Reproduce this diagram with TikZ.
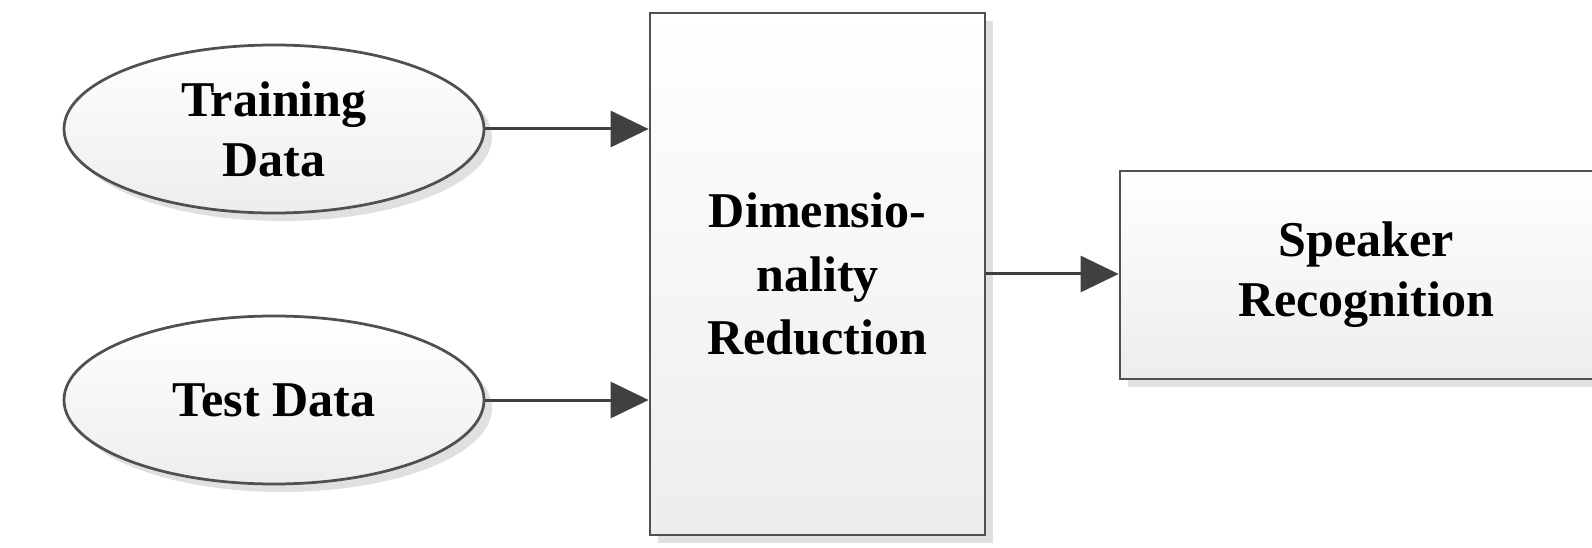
\documentclass[tikz,border=0pt]{standalone}
\usepackage{fontspec}
\setmainfont{Liberation Serif}
\usetikzlibrary{shapes.geometric,shadows,arrows.meta}
\definecolor{LineGray}{HTML}{505050}
\definecolor{ArrowGray}{HTML}{404040}
\tikzset{
  boxshade/.style={top color=white,bottom color=black!7,draw=LineGray,line width=0.55mm,
    drop shadow={shadow xshift=1.6mm,shadow yshift=-1.6mm,fill=black!12,opacity=1}},
  datanode/.style={boxshade,ellipse,minimum width=84mm,minimum height=33.6mm,
    align=center,inner sep=0pt},
  blockbox/.style={boxshade,rectangle,align=center,inner sep=0pt},
  flowarrow/.style={-{Triangle[length=7.6mm,width=7.2mm]},line width=0.6mm,ArrowGray}
}
\begin{document}
\begin{tikzpicture}[x=0.2mm,y=-0.2mm,font=\fontsize{28.5}{34}\selectfont\bfseries]
  \useasboundingbox (0,0) rectangle (1592,548);
  \node[datanode] (train) at (274,129) {Training\\Data};
  \node[datanode] (test) at (274,400) {Test Data};
  \node[blockbox,minimum width=67mm,minimum height=104.4mm,
    font=\fontsize{28.5}{36}\selectfont\bfseries] (dimred)
    at (817.5,274) {Dimensio-\\nality\\Reduction};
  \node[blockbox,minimum width=98.4mm,minimum height=41.6mm] (speaker)
    at (1366,275) {Speaker\\Recognition};
  \draw[flowarrow] (train.east) -- (train.east -| dimred.west);
  \draw[flowarrow] (test.east) -- (test.east -| dimred.west);
  \draw[flowarrow] (dimred.east) -- (dimred.east -| speaker.west);
\end{tikzpicture}
\end{document}
